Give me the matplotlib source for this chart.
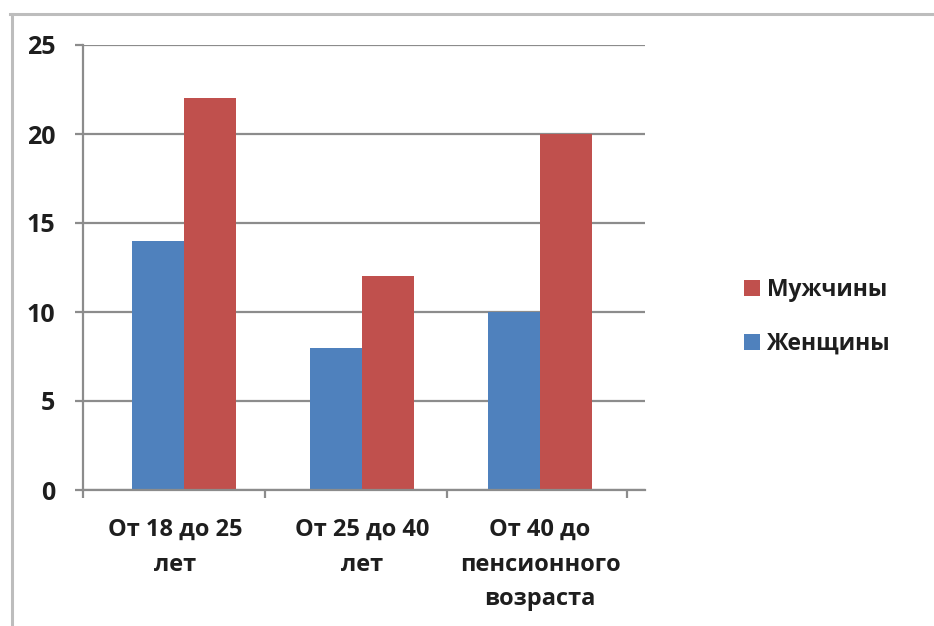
import matplotlib
matplotlib.use("Agg")
import matplotlib.pyplot as plt
from matplotlib.lines import Line2D
from matplotlib.patches import Patch
from matplotlib.transforms import ScaledTranslation
import numpy as np

# Data
categories = ["От 18 до 25\nлет", "От 25 до 40\nлет", "От 40 до\nпенсионного\nвозраста"]
women = [14, 8, 10]
men = [22, 12, 20]
series_names = ["Мужчины", "Женщины"]
y_ticks = [0, 5, 10, 15, 20, 25]

BLUE = "#4F81BD"
RED = "#C0504D"
GRID = "#8C8C8C"
TEXT = "#1E1E1E"
FONT = ["Open Sans", "DejaVu Sans"]

plt.rcParams["font.family"] = FONT

W, H = 934, 626
fig = plt.figure(figsize=(W / 100, H / 100), dpi=100)
fig.patch.set_facecolor("white")

# Chart frame lines (top and left edge of the chart area)
fig.add_artist(Line2D([10 / W, 1.0], [1 - 14 / H, 1 - 14 / H], color="#BDBDBD", lw=2.2))
fig.add_artist(Line2D([12 / W, 12 / W], [0, 1 - 14 / H], color="#BDBDBD", lw=2.2))

ax = fig.add_axes([83 / W, (H - 490) / H, (645 - 83) / W, (490 - 45) / H])

x = np.arange(len(categories))
bw = 0.29
ax.bar(x - bw / 2, women, width=bw, color=BLUE, zorder=3)
ax.bar(x + bw / 2, men, width=bw, color=RED, zorder=3)

ax.set_xlim(-0.567, 2.59)
ax.set_ylim(0, 25)

ax.set_yticks(y_ticks)
ax.set_yticklabels([str(v) for v in y_ticks])
ax.yaxis.grid(True, color=GRID, lw=1.6, zorder=0)
ax.tick_params(axis="y", length=6, width=1.6, color=GRID, pad=14,
               labelsize=18)
for lab in ax.get_yticklabels():
    lab.set_fontweight("bold")
    lab.set_color(TEXT)

ax.set_xticks(x)
ax.set_xticklabels(categories, fontsize=17, fontweight="bold", color=TEXT,
                   linespacing=1.6)
ax.tick_params(axis="x", which="major", length=0, pad=20)
ax.set_xticks([-0.567, 0.455, 1.48, 2.49], minor=True)
ax.tick_params(axis="x", which="minor", length=6, width=1.6, color=GRID)

# first category label sits a little left of its bar pair
first = ax.get_xticklabels()[0]
first.set_transform(first.get_transform() + ScaledTranslation(-0.09, 0, fig.dpi_scale_trans))

for s in ["top", "right"]:
    ax.spines[s].set_visible(False)
for s in ["left", "bottom"]:
    ax.spines[s].set_color(GRID)
    ax.spines[s].set_linewidth(1.6)
    ax.spines[s].set_zorder(4)

handles = [Patch(facecolor=RED, edgecolor="none"), Patch(facecolor=BLUE, edgecolor="none")]
fig.legend(handles, series_names, loc="center left",
           bbox_to_anchor=(723 / W, 1 - 317 / H), frameon=False,
           prop={"family": FONT, "weight": "bold", "size": 16.5},
           handlelength=0.7, handleheight=0.7, handletextpad=0.3,
           labelspacing=1.3, labelcolor=TEXT)

fig.savefig("out.png", dpi=100, facecolor="white")
